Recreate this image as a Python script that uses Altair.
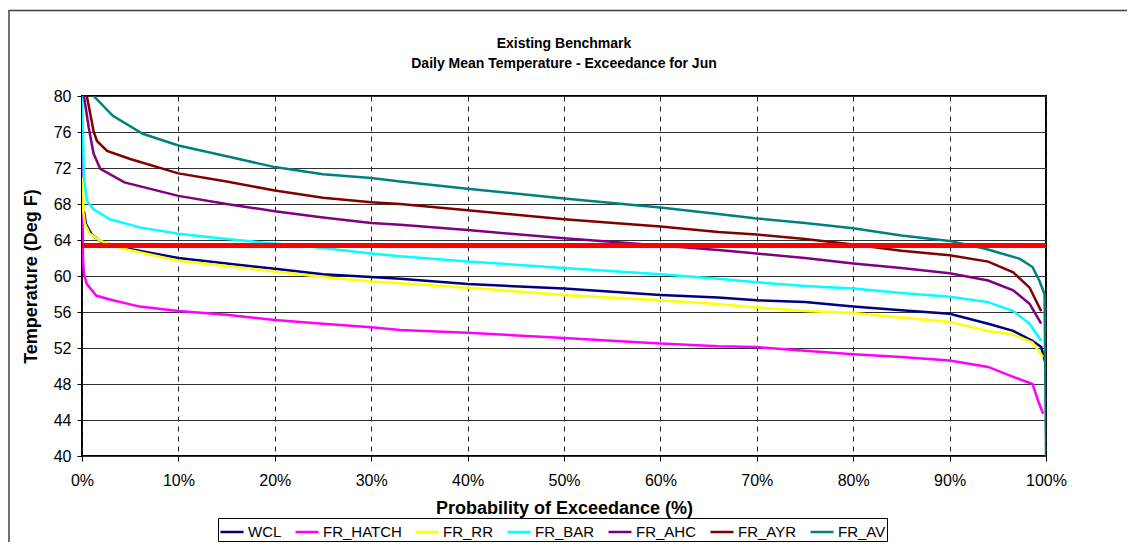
import altair as alt
import pandas as pd

series = ["WCL", "FR_HATCH", "FR_RR", "FR_BAR", "FR_AHC", "FR_AYR", "FR_AV"]
colors = ["#000080", "#FF00FF", "#FFFF00", "#00FFFF", "#800080", "#800000", "#008080"]

wcl_p = [0.2, 0.4, 1, 2, 4.4, 10, 15, 20, 25, 30, 33, 40, 50, 60, 66, 70, 75, 80, 85, 90, 94, 96.6, 98.6, 99.5, 99.9]
wcl_t = [67.2, 65.8, 64.6, 63.8, 63.1, 62.0, 61.4, 60.8, 60.2, 59.9, 59.7, 59.1, 58.6, 57.9, 57.6, 57.3, 57.1, 56.6, 56.2, 55.8, 54.7, 53.9, 52.8, 52.1, 50.5]

hatch_p = [0, 0.1, 0.2, 0.5, 1.5, 3.2, 6, 10, 15, 20, 25, 30, 33, 40, 50, 60, 66, 70, 75, 80, 85, 90, 94, 96.6, 98.6, 99.3, 99.7]
hatch_t = [76, 62, 60.2, 59.1, 57.8, 57.3, 56.6, 56.1, 55.7, 55.1, 54.7, 54.3, 54.0, 53.7, 53.1, 52.5, 52.2, 52.1, 51.7, 51.3, 51.0, 50.6, 49.9, 48.8, 48.0, 45.8, 44.7]

rr_p = [0.05, 0.15, 0.3, 0.8, 1.9, 4.4, 10, 15, 20, 25, 30, 33, 40, 50, 60, 66, 70, 75, 80, 85, 90, 94, 96.6, 98.6, 99.7]
rr_t = [71, 67, 65.8, 64.7, 63.9, 63.0, 61.7, 61.1, 60.5, 59.9, 59.4, 59.2, 58.7, 57.9, 57.3, 56.9, 56.5, 56.1, 55.9, 55.4, 54.9, 53.9, 53.5, 52.6, 51.0]

bar_p = [0, 0.1, 0.2, 0.5, 1.2, 2.9, 6, 10, 15, 20, 25, 30, 33, 40, 50, 60, 66, 70, 75, 80, 85, 90, 94, 96.6, 98.3, 99.5]
bar_t = [80, 75.8, 71, 68.4, 67.4, 66.3, 65.4, 64.7, 64.1, 63.6, 63.1, 62.5, 62.2, 61.6, 60.9, 60.2, 59.7, 59.3, 58.9, 58.6, 58.1, 57.7, 57.1, 56.1, 54.7, 52.8]

ahc_p = [0.2, 0.7, 1.2, 1.9, 4.4, 10, 15, 20, 25, 30, 33, 40, 50, 60, 66, 70, 75, 80, 85, 90, 94, 96.6, 98.3, 99.5]
ahc_t = [80, 76.5, 73.6, 71.9, 70.4, 68.9, 68.0, 67.2, 66.5, 65.9, 65.7, 65.1, 64.2, 63.4, 62.9, 62.5, 62.0, 61.4, 60.9, 60.3, 59.5, 58.4, 56.9, 54.7]

ayr_p = [0.5, 1.2, 1.55, 2.6, 5, 10, 15, 20, 25, 30, 33, 40, 50, 60, 66, 70, 75, 80, 85, 90, 94, 96.6, 98.3, 99.5]
ayr_t = [80, 76.1, 75.0, 73.9, 73.0, 71.4, 70.5, 69.5, 68.7, 68.2, 68.0, 67.3, 66.3, 65.5, 64.9, 64.6, 64.1, 63.5, 62.8, 62.3, 61.6, 60.4, 58.7, 56.1]

av_p = [1.2, 3.2, 6.3, 10, 15, 20, 25, 30, 33, 40, 50, 60, 66, 70, 75, 80, 85, 90, 93.8, 97.3, 98.6, 99.3, 99.85, 100]
av_t = [80, 77.8, 75.8, 74.5, 73.3, 72.1, 71.3, 70.9, 70.5, 69.7, 68.6, 67.6, 66.9, 66.4, 65.9, 65.3, 64.5, 63.9, 63.0, 61.9, 61.0, 59.5, 58.0, 40.0]

benchmark = [63.4]
x_ticks = [0, 10, 20, 30, 40, 50, 60, 70, 80, 90, 100]
y_ticks = [40, 44, 48, 52, 56, 60, 64, 68, 72, 76, 80]
title_lines = ["Existing Benchmark", "Daily Mean Temperature - Exceedance for Jun"]

FONT = "Liberation Sans"

rows = []
for name, ps, ts in [("WCL", wcl_p, wcl_t), ("FR_HATCH", hatch_p, hatch_t), ("FR_RR", rr_p, rr_t),
                     ("FR_BAR", bar_p, bar_t), ("FR_AHC", ahc_p, ahc_t), ("FR_AYR", ayr_p, ayr_t),
                     ("FR_AV", av_p, av_t)]:
    for p, t in zip(ps, ts):
        rows.append({"series": name, "p": p, "temp": t})
df = pd.DataFrame(rows)

xscale = alt.Scale(domain=[0, 100], nice=False, zero=False)
yscale = alt.Scale(domain=[40, 80], nice=False, zero=False)

xaxis = alt.Axis(values=x_ticks, labelExpr="datum.value + '%'", grid=True,
                 gridDash=[5, 5], gridColor="#202020", gridWidth=1,
                 title="Probability of Exceedance (%)", titleY=52, titleBaseline="middle",
                 labelPadding=11, tickSize=5, tickColor="#000000",
                 labelFont=FONT, labelFontSize=16, labelColor="#000000",
                 titleFont=FONT, titleFontSize=18, titleFontWeight="bold",
                 titleColor="#000000", domain=False, labelFlush=False)
yaxis = alt.Axis(values=y_ticks, grid=True, gridColor="#303030", gridWidth=1,
                 title="Temperature (Deg F)", titleX=-51, titleY=180,
                 titleBaseline="middle", titleAlign="center", titleAngle=270,
                 labelPadding=6, tickSize=5, tickColor="#000000",
                 labelFont=FONT, labelFontSize=16, labelColor="#000000",
                 titleFont=FONT, titleFontSize=18, titleFontWeight="bold",
                 titleColor="#000000", domain=False, labelOverlap=False, labelFlush=False)

lines = alt.Chart(df).mark_line(strokeWidth=2.5, clip=True).encode(
    x=alt.X("p:Q", scale=xscale, axis=xaxis),
    y=alt.Y("temp:Q", scale=yscale, axis=yaxis),
    color=alt.Color("series:N", scale=alt.Scale(domain=series, range=colors), sort=series,
                    legend=alt.Legend(title=None, orient="none", direction="horizontal",
                                      legendX=136, legendY=422, symbolType="stroke",
                                      symbolSize=529, symbolStrokeWidth=2.5, labelOffset=3,
                                      columnPadding=8, strokeColor="#000000", padding=1,
                                      fillColor="#FFFFFF", labelFont=FONT, labelFontSize=15,
                                      labelColor="#000000")),
)

bench = alt.Chart(pd.DataFrame({"temp": benchmark})).mark_rule(color="#FF0000", strokeWidth=5).encode(
    y=alt.Y("temp:Q", scale=yscale, axis=yaxis)
)

one = pd.DataFrame({"a": [0]})
frame_left = alt.Chart(one).mark_rule(color="#404040", strokeWidth=1.5).encode(
    x=alt.value(-73), y=alt.value(-86), y2=alt.value(470)
)
frame_top = alt.Chart(one).mark_rule(color="#404040", strokeWidth=1.5).encode(
    x=alt.value(-73), x2=alt.value(1100), y=alt.value(-85.5)
)

title1 = alt.Chart(one).mark_text(text=title_lines[0], font=FONT, fontSize=14, fontWeight="bold",
                                  color="#000000", align="center", baseline="middle").encode(
    x=alt.value(482), y=alt.value(-52)
)
title2 = alt.Chart(one).mark_text(text=title_lines[1], font=FONT, fontSize=14, fontWeight="bold",
                                  color="#000000", align="center", baseline="middle").encode(
    x=alt.value(482), y=alt.value(-32)
)

chart = alt.layer(frame_left, frame_top, title1, title2, lines, bench).properties(
    width=964, height=360,
    background="#FFFFFF",
    autosize=alt.AutoSizeParams(type="none"),
    padding={"left": 74, "top": 88, "right": 81, "bottom": 86},
).configure_view(stroke="#000000", strokeWidth=2)

chart.save("out.html", embed_options={"renderer": "svg", "actions": False})
